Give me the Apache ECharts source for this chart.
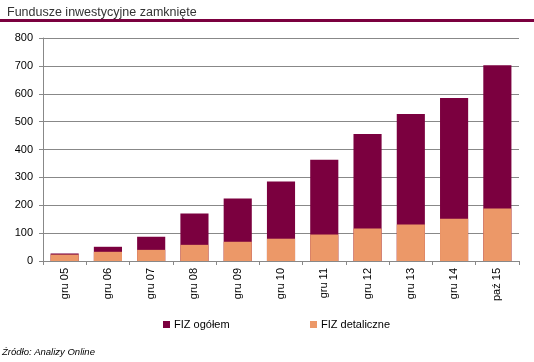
<!DOCTYPE html>
<html>
<head>
<meta charset="utf-8">
<script src="https://cdn.jsdelivr.net/npm/echarts@6/dist/echarts.min.js"></script>
<style>
html,body{margin:0;padding:0;background:#fff;}
#chart{width:534px;height:362px;}
</style>
</head>
<body>
<div id="chart"></div>
<script>
const categories = ['gru 05','gru 06','gru 07','gru 08','gru 09','gru 10','gru 11','gru 12','gru 13','gru 14','paź 15'];
const fizOgolem = [27, 51, 87, 170, 224, 285, 363, 456, 527, 585, 702];
const fizDetaliczne = [23, 33, 40, 58, 69, 80, 95, 117, 131, 152, 188];
const yTicks = [0, 100, 200, 300, 400, 500, 600, 700, 800];

const FONT = 'Liberation Sans';
const chart = echarts.init(document.getElementById('chart'), null, {renderer: 'canvas'});
chart.setOption({
  animation: false,
  backgroundColor: '#fff',
  title: {
    text: 'Fundusze inwestycyjne zamknięte',
    left: 2, top: 1,
    textStyle: {fontFamily: FONT, fontSize: 12.5, fontWeight: 'normal', color: '#333'}
  },
  graphic: [
    {type: 'rect', shape: {x: 0, y: 19, width: 534, height: 3}, style: {fill: '#7b003f'}},
    {type: 'text', left: 2, top: 347, style: {text: 'Źródło: Analizy Online', font: 'italic 9.5px "Liberation Sans"', fill: '#000'}}
  ],
  legend: [
    {data: ['FIZ ogółem'], left: 158, top: 314, itemWidth: 7, itemHeight: 7, icon: 'rect', itemGap: 4,
     textStyle: {fontFamily: FONT, fontSize: 11, color: '#000', padding: [0,0,0,-1]}},
    {data: ['FIZ detaliczne'], left: 305, top: 314, itemWidth: 7, itemHeight: 7, icon: 'rect', itemGap: 4,
     textStyle: {fontFamily: FONT, fontSize: 11, color: '#000', padding: [0,0,0,-1]}}
  ],
  grid: {left: 43, right: 15, top: 38, bottom: 101, containLabel: false},
  xAxis: {
    type: 'category',
    data: categories,
    axisLine: {lineStyle: {color: '#888', width: 1}},
    axisTick: {show: true, alignWithLabel: false, length: 4, lineStyle: {color: '#888'}},
    axisLabel: {rotate: 90, margin: 7, fontFamily: FONT, fontSize: 11, color: '#000'}
  },
  yAxis: {
    type: 'value',
    min: yTicks[0], max: yTicks[yTicks.length - 1], interval: 100,
    axisLine: {show: true, lineStyle: {color: '#888', width: 1}},
    axisTick: {show: true, length: 4, lineStyle: {color: '#888'}},
    axisLabel: {margin: 10, fontFamily: FONT, fontSize: 11, color: '#000'},
    splitLine: {lineStyle: {color: '#888', width: 1}}
  },
  series: [
    {name: 'FIZ ogółem', type: 'bar', data: fizOgolem, barWidth: '65%', barGap: '-100%',
     itemStyle: {color: '#7b003f'}},
    {name: 'FIZ detaliczne', type: 'bar', data: fizDetaliczne, barWidth: '65%', barGap: '-100%',
     itemStyle: {color: '#ec9868'}}
  ]
});
</script>
</body>
</html>
